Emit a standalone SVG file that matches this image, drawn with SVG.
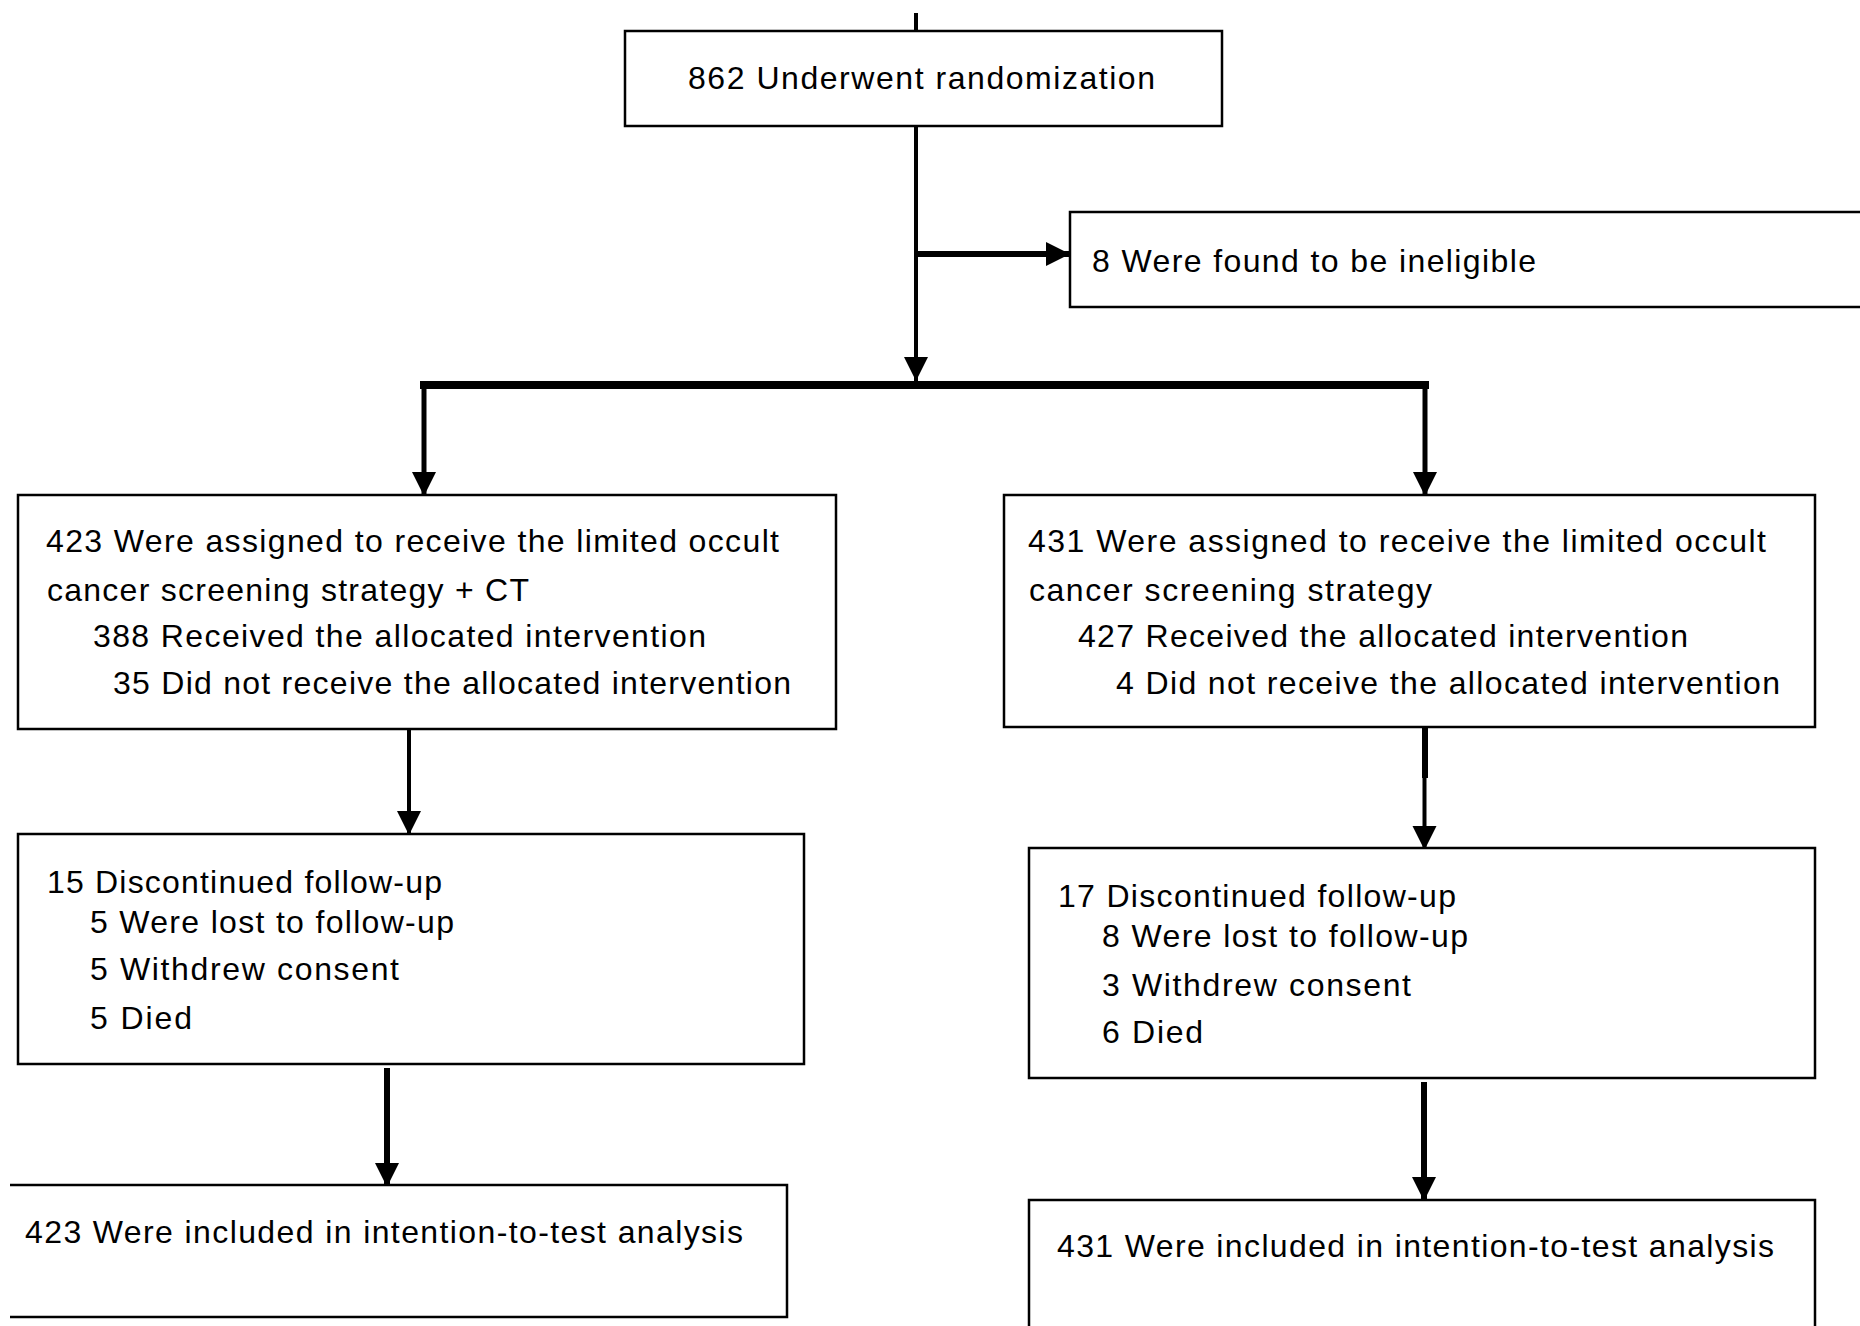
<svg xmlns="http://www.w3.org/2000/svg" width="1860" height="1326" viewBox="0 0 1860 1326">
<style>
.box{fill:#fff;stroke:#000;stroke-width:2.5}
.t{font-family:"Liberation Sans",Arial,sans-serif;font-size:32px;fill:#000}
.c{fill:none;stroke:#000;stroke-linecap:butt}
</style>
<defs>
<marker id="ah" markerUnits="userSpaceOnUse" markerWidth="26" markerHeight="26" refX="24" refY="12" orient="auto" viewBox="0 0 26 24">
<path d="M0,0 L24,12 L0,24 z" fill="#000"/>
</marker>
</defs>
<rect width="1860" height="1326" fill="#fff"/>

<g id="connectors">
<line class="c" x1="916" y1="13" x2="916" y2="31" stroke-width="4"/>
<line class="c" x1="916" y1="126" x2="916" y2="381" stroke-width="4" marker-end="url(#ah)"/>
<line class="c" x1="916" y1="254" x2="1070" y2="254" stroke-width="6" marker-end="url(#ah)"/>
<line class="c" x1="420" y1="385" x2="1429" y2="385" stroke-width="8"/>
<line class="c" x1="424" y1="385" x2="424" y2="496" stroke-width="5" marker-end="url(#ah)"/>
<line class="c" x1="1425" y1="385" x2="1425" y2="496" stroke-width="5" marker-end="url(#ah)"/>
<line class="c" x1="409" y1="723" x2="409" y2="835" stroke-width="4" marker-end="url(#ah)"/>
<line class="c" x1="387" y1="1068" x2="387" y2="1187" stroke-width="6" marker-end="url(#ah)"/>
<line class="c" x1="1425" y1="728" x2="1425" y2="778" stroke-width="6"/>
<line class="c" x1="1424.5" y1="777" x2="1424.5" y2="850" stroke-width="4" marker-end="url(#ah)"/>
<line class="c" x1="1424" y1="1082" x2="1424" y2="1201" stroke-width="6" marker-end="url(#ah)"/>
</g>

<g id="n-randomization">
<rect class="box" x="625" y="31" width="597" height="95"/>
<text class="t" x="688" y="89" textLength="467">862 Underwent randomization</text>
</g>

<g id="n-ineligible">
<rect class="box" x="1070" y="212" width="810" height="95"/>
<text class="t" x="1092" y="272" textLength="444">8 Were found to be ineligible</text>
</g>

<g id="n-left-assigned">
<rect class="box" x="18" y="495" width="818" height="234"/>
<text class="t" x="46" y="552" textLength="733">423 Were assigned to receive the limited occult</text>
<text class="t" x="47" y="601" textLength="482">cancer screening strategy + CT</text>
<text class="t" x="93" y="647" textLength="613">388 Received the allocated intervention</text>
<text class="t" x="113" y="694" textLength="678">35 Did not receive the allocated intervention</text>
</g>

<g id="n-right-assigned">
<rect class="box" x="1004" y="495" width="811" height="232"/>
<text class="t" x="1028" y="552" textLength="738">431 Were assigned to receive the limited occult</text>
<text class="t" x="1029" y="601" textLength="403">cancer screening strategy</text>
<text class="t" x="1078" y="647" textLength="610">427 Received the allocated intervention</text>
<text class="t" x="1116" y="694" textLength="664">4 Did not receive the allocated intervention</text>
</g>

<g id="n-left-followup">
<rect class="box" x="18" y="834" width="786" height="230"/>
<text class="t" x="47" y="893" textLength="395">15 Discontinued follow-up</text>
<text class="t" x="90" y="933" textLength="364">5 Were lost to follow-up</text>
<text class="t" x="90" y="980" textLength="309">5 Withdrew consent</text>
<text class="t" x="90" y="1029" textLength="102">5 Died</text>
</g>

<g id="n-right-followup">
<rect class="box" x="1029" y="848" width="786" height="230"/>
<text class="t" x="1058" y="907" textLength="398">17 Discontinued follow-up</text>
<text class="t" x="1102" y="947" textLength="366">8 Were lost to follow-up</text>
<text class="t" x="1102" y="996" textLength="309">3 Withdrew consent</text>
<text class="t" x="1102" y="1043" textLength="101">6 Died</text>
</g>

<g id="n-left-itt">
<path d="M10,1185 H787 V1317 H10" fill="#fff" stroke="#000" stroke-width="2.5"/>
<text class="t" x="25" y="1243" textLength="718">423 Were included in intention-to-test analysis</text>
</g>

<g id="n-right-itt">
<rect class="box" x="1029" y="1200" width="786" height="140"/>
<text class="t" x="1057" y="1257" textLength="717">431 Were included in intention-to-test analysis</text>
</g>
</svg>
